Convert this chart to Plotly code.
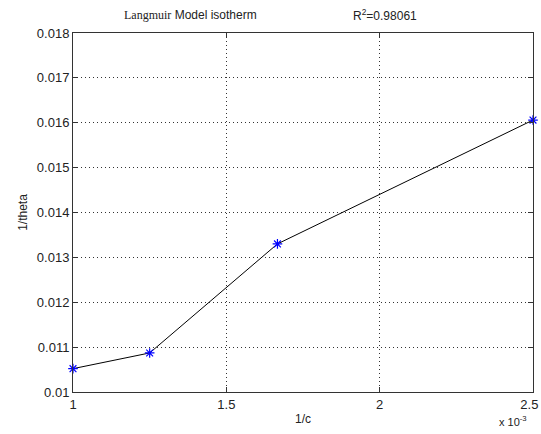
import plotly.graph_objects as go

inv_c = [0.001, 0.00125, 0.0016667, 0.0025]
inv_theta = [0.01052, 0.01087, 0.01330, 0.01606]
x_tickvals = [0.001, 0.0015, 0.002, 0.0025]
x_ticktext = ["1", "1.5", "2", "2.5&nbsp;&nbsp;"]
y_tickvals = [0.010, 0.011, 0.012, 0.013, 0.014, 0.015, 0.016, 0.017, 0.018]
y_ticktext = ["0.01", "0.011", "0.012", "0.013", "0.014", "0.015", "0.016", "0.017", "0.018"]

# plot area in window: x 73..533, y 33..392 (page body margin removed)
L, T, R, B = 73, 33, 8, 42
W, H = 541, 434
PW, PH = 460, 359


def px(wx):
    return (wx - 73) / PW


def py(wy):
    return (392 - wy) / PH


fig = go.Figure()
fig.add_trace(go.Scatter(
    x=inv_c, y=inv_theta, mode="lines+markers",
    line=dict(color="black", width=1),
    marker=dict(symbol="asterisk-open", size=8, color="blue", line=dict(color="blue", width=1.2)),
    showlegend=False, cliponaxis=False,
))

FONT = "Liberation Sans, Arial, sans-serif"
axis_common = dict(
    showline=True, linecolor="#333333", linewidth=1, mirror="ticks",
    ticks="inside", ticklen=5, tickcolor="#333333",
    showgrid=True, gridcolor="#333333", griddash="1px,3px", gridwidth=1,
    zeroline=False, tickfont=dict(family=FONT, size=13, color="#222222"),
    ticklabeloverflow="allow", automargin=False,
)

fig.update_xaxes(range=[0.001, 0.0025], tickvals=x_tickvals, ticktext=x_ticktext,
                 title=dict(text="1/c", font=dict(family=FONT, size=12, color="#222222"), standoff=4),
                 **axis_common)
fig.update_yaxes(range=[0.010, 0.018], tickvals=y_tickvals, ticktext=y_ticktext,
                 title=dict(text="1/theta", font=dict(family=FONT, size=12, color="#222222"), standoff=6),
                 **axis_common)

fig.add_annotation(text="<span style='font-family:Liberation Serif'>Langmuir</span> Model isotherm",
                   x=px(122), y=py(15), xref="paper", yref="paper",
                   showarrow=False, xanchor="left", yanchor="middle",
                   font=dict(family=FONT, size=12, color="#222222"))
fig.add_annotation(text="R<sup>2</sup>=0.98061",
                   x=px(351), y=py(15), xref="paper", yref="paper",
                   showarrow=False, xanchor="left", yanchor="middle",
                   font=dict(family=FONT, size=12, color="#222222"))
fig.add_annotation(text="x 10<sup>-3</sup>",
                   x=px(497), y=py(421), xref="paper", yref="paper",
                   showarrow=False, xanchor="left", yanchor="middle",
                   font=dict(family=FONT, size=11, color="#222222"))

fig.update_layout(
    width=W, height=H,
    margin=dict(l=L, r=R, t=T, b=B, autoexpand=False),
    paper_bgcolor="white", plot_bgcolor="white",
)

fig.write_html("out.html",
               config={"displayModeBar": False},
               post_script="document.body.style.margin='0';document.body.style.overflow='hidden';")
